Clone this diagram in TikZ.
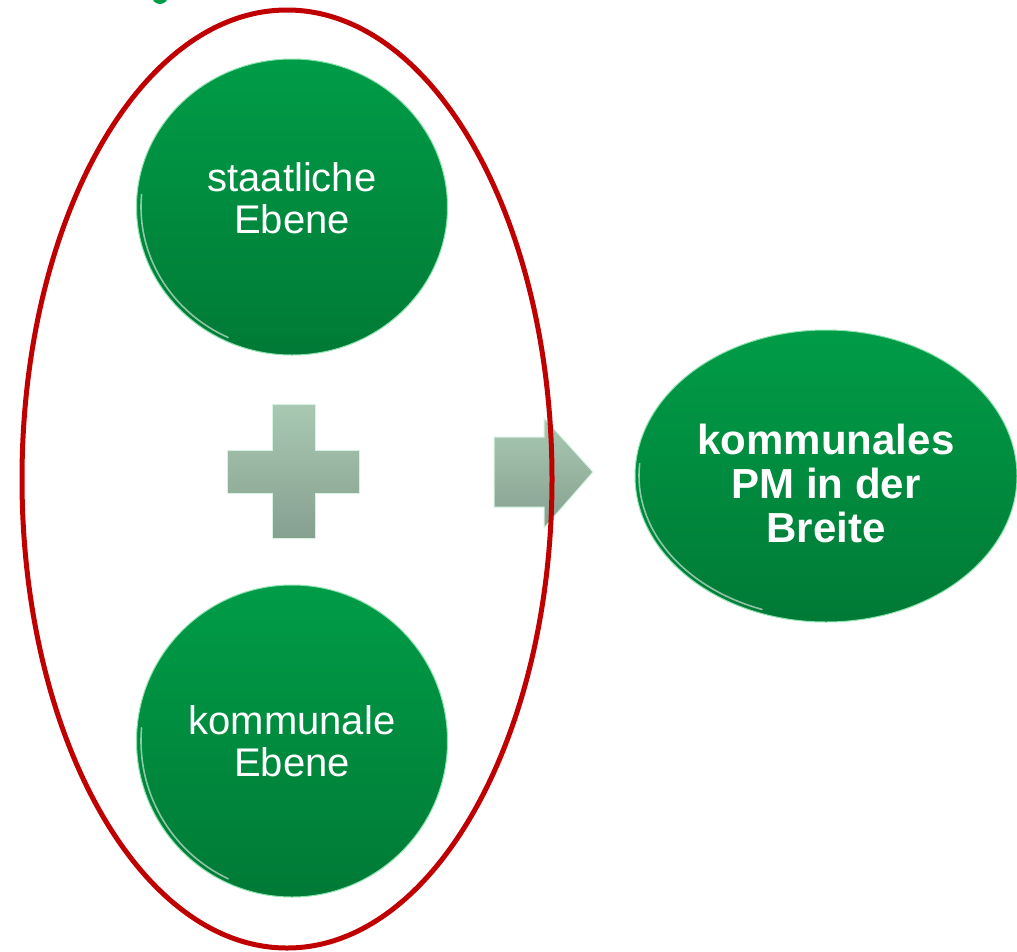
\documentclass[tikz,border=0pt]{standalone}
\usepackage{fontspec}
\setmainfont{Liberation Sans}
\usetikzlibrary{shapes.geometric,calc}
\definecolor{gtop}{HTML}{009C47}
\definecolor{gbot}{HTML}{007A36}
\definecolor{grim}{HTML}{8FE3B0}
\definecolor{stop}{HTML}{A9C9B3}
\definecolor{sbot}{HTML}{86A08F}
\definecolor{sedge}{HTML}{D6F2E2}
\definecolor{redring}{HTML}{C00000}
\tikzset{
  ball/.style={ellipse, inner sep=0pt, top color=gtop, bottom color=gbot,
    draw=grim, line width=1pt},
  balltext/.style={text=white, align=center, inner sep=0pt},
  plain/.style={font=\fontsize{40}{42}\selectfont},
  boldtxt/.style={font=\bfseries\fontsize{42}{44}\selectfont},
  gloss/.style={white, opacity=0.55, line width=1.6pt, line cap=round},
  symb/.style={top color=stop, bottom color=sbot, draw=sedge, line width=1pt},
}
\begin{document}
\begin{tikzpicture}[x=1pt,y=-1pt]
\useasboundingbox (0,0) rectangle (1017,951);
% fragment of cut-off title at top
\begin{scope}
\clip (0,0) rectangle (1017,951);
\fill[gtop] (160,-4) circle (8);
\end{scope}
% circles
\node[ball, minimum width=311pt, minimum height=296pt] (top) at (292,207) {};
\node[balltext, plain] (toptxt) at (292,198) {staatliche\\Ebene};
\node[ball, minimum width=311pt, minimum height=312pt] (bot) at (292,741) {};
\node[balltext, plain] (bottxt) at (292,741) {kommunale\\Ebene};
\node[ball, minimum width=382pt, minimum height=292pt] (res) at (826,476) {};
\node[balltext, boldtxt] (restxt) at (826,483) {kommunales\\PM in der\\Breite};
% gloss rims
\draw[gloss] ($(top.center)+(115:151 and 144)$) arc[start angle=115, end angle=185, x radius=151, y radius=144];
\draw[gloss] ($(bot.center)+(115:151 and 152)$) arc[start angle=115, end angle=185, x radius=151, y radius=152];
\draw[gloss] ($(res.center)+(110:187 and 142)$) arc[start angle=110, end angle=185, x radius=187, y radius=142];
% plus sign
\path[symb] (272,404) -- (315,404) -- (315,450) -- (359,450) -- (359,493) -- (315,493)
  -- (315,538) -- (272,538) -- (272,493) -- (227,493) -- (227,450) -- (272,450) -- cycle;
% arrow
\path[symb] (494,437) -- (544,437) -- (544,418) -- (593,472) -- (544,528) -- (544,507)
  -- (494,507) -- cycle;
% red ring
\draw[redring, line width=5pt] (287,479) ellipse [x radius=265, y radius=469];
\end{tikzpicture}
\end{document}
